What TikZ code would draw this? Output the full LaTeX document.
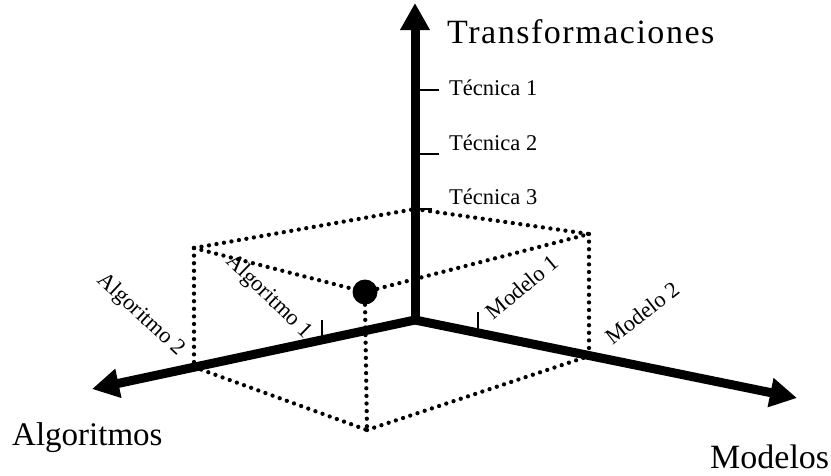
\documentclass[tikz,border=0pt]{standalone}
\usepackage{fontspec}
\setmainfont{Liberation Serif}
\newfontfamily\wideserif[LetterSpace=4.5]{Liberation Serif}
\usetikzlibrary{arrows.meta}
\tikzset{
  axis/.style={line width=9pt, -{Triangle[length=27pt,width=28pt]}},
  dotline/.style={line width=4.3pt, line cap=round, dash pattern=on 0pt off 7.6pt},
  tickline/.style={line width=1.1pt},
  biglabel/.style={font=\fontsize{34}{40}\selectfont, inner sep=0pt},
  smalllabel/.style={font=\fontsize{22.5}{26}\selectfont, inner sep=0pt},
  ball/.style={circle, fill=black, minimum size=25pt, inner sep=0pt}
}
\begin{document}
\begin{tikzpicture}[x=1pt, y=-1pt]
\useasboundingbox (0,0) rectangle (831,475);
\fill[white] (0,0) rectangle (831,475);

% origin and axis ends
\coordinate (O)  at (415,320);
\coordinate (Tz) at (415,3);
\coordinate (Tx) at (92,389);
\coordinate (Ty) at (797,398);

% box corners
\coordinate (LT) at (194,248);
\coordinate (BK) at (415,209);
\coordinate (RT) at (589,234);
\coordinate (LB) at (194,367);
\coordinate (RB) at (589,356);
\coordinate (FB) at (367,430);
\node[ball] (P) at (365,292) {};

% dotted box
\draw[dotline] (LT) -- (BK);
\draw[dotline] (BK) -- (RT);
\draw[dotline] (LT) -- (P);
\draw[dotline] (P) -- (RT);
\draw[dotline] (LT) -- (LB);
\draw[dotline] (RT) -- (RB);
\draw[dotline] (P.south) -- (FB);
\draw[dotline] (LB) -- (FB);
\draw[dotline] (FB) -- (RB);

% tick marks
\coordinate (t1a) at (415,90);  \coordinate (t1b) at (439,90);
\coordinate (t2a) at (415,154); \coordinate (t2b) at (439,154);
\coordinate (t3a) at (415,209); \coordinate (t3b) at (432,209);
\draw[tickline] (t1a) -- (t1b);
\draw[tickline] (t2a) -- (t2b);
\draw[tickline] (t3a) -- (t3b);
\coordinate (a1a) at (322,320); \coordinate (a1b) at (322,338);
\coordinate (m1a) at (478,312); \coordinate (m1b) at (478,333);
\draw[tickline] (a1a) -- (a1b);
\draw[tickline] (m1a) -- (m1b);

% axes
\draw[axis] (O) -- (Tz);
\draw[axis] (O) -- (Tx);
\draw[axis] (O) -- (Ty);

% axis titles
\node[biglabel, anchor=base west] (lz) at (447,43) {\wideserif Transformaciones};
\node[biglabel, anchor=base west, font=\fontsize{33}{38}\selectfont] (lx) at (12,445) {Algoritmos};
\node[biglabel, anchor=base west] (ly) at (710,468) {Modelos};

% value labels
\node[smalllabel, anchor=base west] (k1) at (449,95)  {Técnica 1};
\node[smalllabel, anchor=base west] (k2) at (449,150) {Técnica 2};
\node[smalllabel, anchor=base west] (k3) at (449,204) {Técnica 3};
\node[smalllabel, rotate=-43] (g2) at (141,315) {Algoritmo 2};
\node[smalllabel, rotate=-44] (g1) at (269,297) {Algoritmo 1};
\node[smalllabel, rotate=40]  (n1) at (522,287) {Modelo 1};
\node[smalllabel, rotate=38]  (n2) at (642,313) {Modelo 2};
\end{tikzpicture}
\end{document}
